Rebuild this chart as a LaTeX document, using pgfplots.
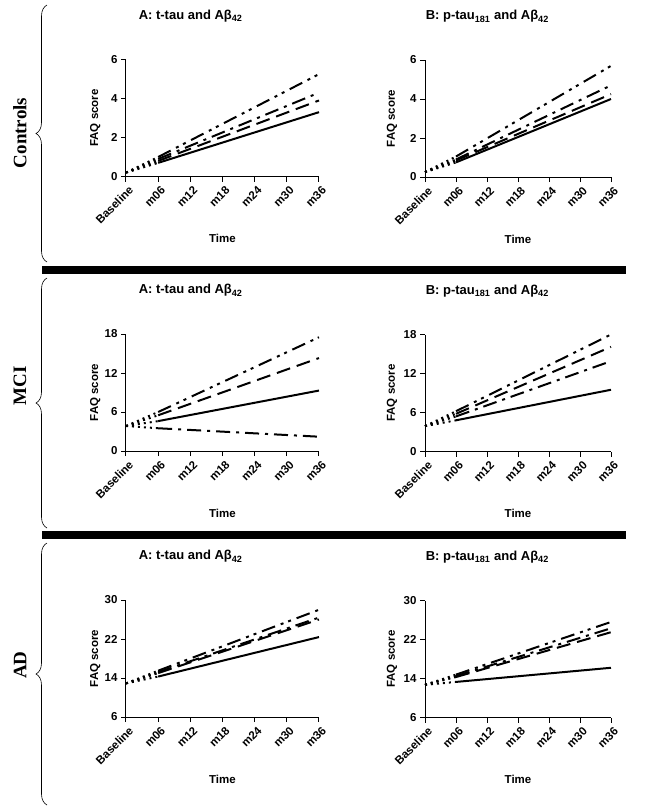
\documentclass[border=0pt]{standalone}
\usepackage{pgfplots}
\pgfplotsset{compat=1.18}
\usepackage{fontspec}
\setmainfont{Liberation Sans}
\newfontfamily\timesfont{Liberation Serif}
\usetikzlibrary{decorations.pathreplacing}
\pgfplotsset{
  panel/.style={scale only axis, height=117pt,
    axis x line*=bottom, axis y line*=left,
    axis line style={-, line width=1pt, black},
    tick align=outside, major tick length=5pt,
    tick style={line width=1pt, black},
    xmin=0, xmax=6, xtick={0,1,2,3,4,5,6},
    xticklabels={Baseline,m06,m12,m18,m24,m30,m36},
    /pgf/number format/assume math mode=true,
    xticklabel style={rotate=45, anchor=north east, inner sep=1pt, yshift=-3pt, font=\bfseries\fontsize{11.5}{13}\selectfont},
    yticklabel style={font=\bfseries\fontsize{11.5}{13}\selectfont},
    xlabel={Time}, ylabel={FAQ score},
    xlabel style={at={(axis description cs:0.5,-0.53)}, anchor=center, font=\bfseries\fontsize{11.5}{13}\selectfont},
    title style={at={(axis description cs:0.335,1.32)}, anchor=center, font=\bfseries\fontsize{13}{15}\selectfont},
    clip=false, no markers},
  pA/.style={panel, width=193pt, ylabel style={at={(axis description cs:-0.16,0.5)}, anchor=center, font=\bfseries\fontsize{11.5}{13}\selectfont}, title={A: t-tau and Aβ\textsubscript{42}}},
  pB/.style={panel, width=186pt, ylabel style={at={(axis description cs:-0.177,0.5)}, anchor=center, font=\bfseries\fontsize{11.5}{13}\selectfont}, title={B: p-tau\textsubscript{181} and Aβ\textsubscript{42}}},
  sol/.style={black, line width=2pt, solid},
  dsh/.style={black, line width=2pt, dash pattern=on 14pt off 7pt},
  dd/.style={black, line width=2pt, dash pattern=on 14pt off 6pt on 3pt off 6pt},
  ddd/.style={black, line width=2pt, dash pattern=on 14pt off 6pt on 3pt off 5pt on 3pt off 6pt},
  dot/.style={black, line width=2pt, dash pattern=on 2pt off 4pt},
}
\begin{document}
\begin{tikzpicture}[x=1pt,y=1pt]
\path[use as bounding box] (0pt,0pt) rectangle (647pt,-807pt);
% separators
\fill[black] (42pt,-266pt) rectangle (626pt,-274pt);
\fill[black] (42pt,-531pt) rectangle (626pt,-539pt);
% braces
\draw[line width=0.6pt, decorate, decoration={brace, amplitude=11pt}] (47pt,-262pt) -- (47pt,-5pt);
\draw[line width=0.6pt, decorate, decoration={brace, amplitude=11pt}] (47pt,-528pt) -- (47pt,-278pt);
\draw[line width=0.6pt, decorate, decoration={brace, amplitude=11pt}] (47pt,-805pt) -- (47pt,-543pt);
% row labels
\node[rotate=90, font=\timesfont\bfseries\fontsize{19}{22}\selectfont] at (20pt,-133pt) {Controls};
\node[rotate=90, font=\timesfont\bfseries\fontsize{19}{22}\selectfont] at (20pt,-386pt) {MCI};
\node[rotate=90, font=\timesfont\bfseries\fontsize{19}{22}\selectfont] at (20pt,-665pt) {AD};

% ---------- Controls A ----------
\begin{axis}[pA, at={(126pt,-176.5pt)}, anchor=south west, ymin=0, ymax=6, ytick={0,2,4,6}]
\addplot[dot] coordinates {(0,0.2) (1,0.7)};
\addplot[dot] coordinates {(0,0.2) (1,0.8)};
\addplot[dot] coordinates {(0,0.2) (1,0.9)};
\addplot[dot] coordinates {(0,0.2) (1,1.0)};
\addplot[sol] coordinates {(1,0.7) (6,3.3)};
\addplot[dsh] coordinates {(1,0.8) (6,3.9)};
\addplot[dd] coordinates {(1,0.9) (6,4.3)};
\addplot[ddd] coordinates {(1,1.0) (6,5.25)};
\end{axis}
% ---------- Controls B ----------
\begin{axis}[pB, at={(425pt,-177pt)}, anchor=south west, ymin=0, ymax=6, ytick={0,2,4,6}]
\addplot[dot] coordinates {(0,0.25) (1,0.75)};
\addplot[dot] coordinates {(0,0.25) (1,0.85)};
\addplot[dot] coordinates {(0,0.25) (1,0.9)};
\addplot[dot] coordinates {(0,0.25) (1,1.05)};
\addplot[sol] coordinates {(1,0.75) (6,4.0)};
\addplot[dsh] coordinates {(1,0.85) (6,4.25)};
\addplot[dd] coordinates {(1,0.9) (6,4.7)};
\addplot[ddd] coordinates {(1,1.05) (6,5.7)};
\end{axis}
% ---------- MCI A ----------
\begin{axis}[pA, at={(126pt,-451pt)}, anchor=south west, ymin=0, ymax=18, ytick={0,6,12,18}]
\addplot[dot] coordinates {(0,3.85) (1,4.6)};
\addplot[dot] coordinates {(0,3.85) (1,5.5)};
\addplot[dot] coordinates {(0,3.85) (1,3.5)};
\addplot[dot] coordinates {(0,3.85) (1,6.0)};
\addplot[sol] coordinates {(1,4.6) (6,9.3)};
\addplot[dsh] coordinates {(1,5.5) (6,14.3)};
\addplot[dd] coordinates {(1,3.5) (6,2.2)};
\addplot[ddd] coordinates {(1,6.0) (6,17.5)};
\end{axis}
% ---------- MCI B ----------
\begin{axis}[pB, at={(425pt,-451.5pt)}, anchor=south west, ymin=0, ymax=18, ytick={0,6,12,18}]
\addplot[dot] coordinates {(0,3.9) (1,4.8)};
\addplot[dot] coordinates {(0,3.9) (1,5.4)};
\addplot[dot] coordinates {(0,3.9) (1,5.8)};
\addplot[dot] coordinates {(0,3.9) (1,6.2)};
\addplot[sol] coordinates {(1,4.8) (6,9.5)};
\addplot[dd] coordinates {(1,5.4) (6,13.9)};
\addplot[dsh] coordinates {(1,5.8) (6,16.1)};
\addplot[ddd] coordinates {(1,6.2) (6,18.0)};
\end{axis}
% ---------- AD A ----------
\begin{axis}[pA, at={(126pt,-717pt)}, anchor=south west, ymin=6, ymax=30, ytick={6,14,22,30}]
\addplot[dot] coordinates {(0,12.9) (1,14.3)};
\addplot[dot] coordinates {(0,12.9) (1,15.0)};
\addplot[dot] coordinates {(0,12.9) (1,15.2)};
\addplot[dot] coordinates {(0,12.9) (1,15.5)};
\addplot[sol] coordinates {(1,14.3) (6,22.4)};
\addplot[dsh] coordinates {(1,15.0) (6,26.0)};
\addplot[dd] coordinates {(1,15.2) (6,26.4)};
\addplot[ddd] coordinates {(1,15.5) (6,28.0)};
\end{axis}
% ---------- AD B ----------
\begin{axis}[pB, at={(425pt,-717.5pt)}, anchor=south west, ymin=6, ymax=30, ytick={6,14,22,30}]
\addplot[dot] coordinates {(0,12.7) (1,13.3)};
\addplot[dot] coordinates {(0,12.7) (1,14.3)};
\addplot[dot] coordinates {(0,12.7) (1,14.5)};
\addplot[dot] coordinates {(0,12.7) (1,14.8)};
\addplot[sol] coordinates {(1,13.3) (6,16.2)};
\addplot[dsh] coordinates {(1,14.3) (6,23.5)};
\addplot[dd] coordinates {(1,14.5) (6,24.3)};
\addplot[ddd] coordinates {(1,14.8) (6,25.6)};
\end{axis}
\end{tikzpicture}
\end{document}
